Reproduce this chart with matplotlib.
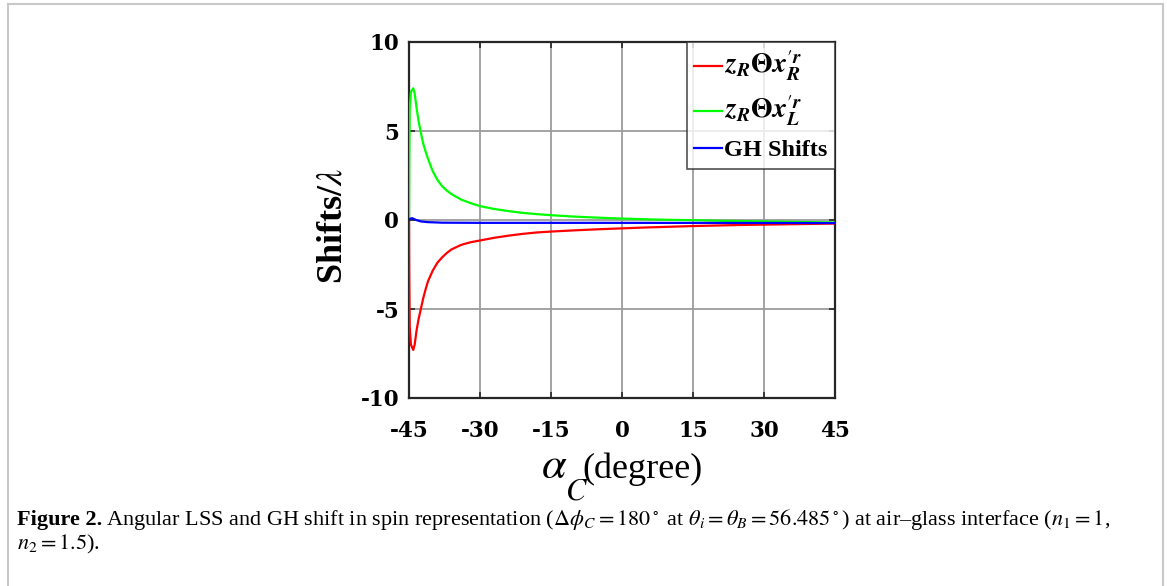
import matplotlib
matplotlib.use("Agg")
import matplotlib.pyplot as plt
from matplotlib.lines import Line2D

plt.rcParams['font.family'] = ['Liberation Serif', 'DejaVu Serif']
plt.rcParams['mathtext.fontset'] = 'stix'

# ---- data ----
alpha_c = [-45, -44.95, -44.85, -44.6, -44.1, -43.8, -43.4, -43.0, -42.5, -42.0, -41.5,
           -41.0, -40.0, -39.0, -38.0, -37.0, -36.0, -34.0, -32.0, -30.0, -27.0, -24.0,
           -21.0, -18.0, -15.0, -10.0, -5.0, 0.0, 5.0, 10.0, 15.0, 20.0, 25.0, 30.0,
           35.0, 40.0, 45.0]
shift_R = [0, -3.0, -6.0, -7.0, -7.3, -7.0, -6.2, -5.6, -5.0, -4.4, -3.9,
           -3.45, -2.85, -2.4, -2.1, -1.85, -1.65, -1.4, -1.25, -1.15, -1.0, -0.88,
           -0.78, -0.70, -0.65, -0.58, -0.52, -0.47, -0.42, -0.38, -0.34, -0.31, -0.28, -0.26,
           -0.24, -0.22, -0.20]
shift_L = [0, 3.0, 6.2, 7.2, 7.4, 7.1, 6.3, 5.6, 4.9, 4.3, 3.85,
           3.45, 2.75, 2.25, 1.9, 1.65, 1.45, 1.15, 0.95, 0.78, 0.62, 0.50,
           0.40, 0.33, 0.27, 0.19, 0.13, 0.08, 0.04, 0.01, -0.01, -0.04, -0.06, -0.08,
           -0.10, -0.12, -0.14]
gh_x = [-45, -44.7, -44.3, -43.5, -42.5, -41.0, -38.0, -30.0, 0.0, 45.0]
gh_shift = [0, 0.08, 0.10, 0.0, -0.08, -0.12, -0.15, -0.16, -0.16, -0.17]

x_ticks = [-45, -30, -15, 0, 15, 30, 45]
y_ticks = [-10, -5, 0, 5, 10]
legend_labels = [r'$\mathbfit{z}_{\mathbfit{R}}\mathbf{\Theta}\mathbfit{x}^{\prime\mathbfit{r}}_{\mathbfit{R}}$',
                 r'$\mathbfit{z}_{\mathbfit{R}}\mathbf{\Theta}\mathbfit{x}^{\prime\mathbfit{r}}_{\mathbfit{L}}$',
                 'GH Shifts']

W, H = 1167, 586
fig = plt.figure(figsize=(W / 100, H / 100), dpi=100)
ax = fig.add_axes([409 / W, 1 - 398 / H, (835 - 409) / W, (398 - 42) / H])

ax.plot(alpha_c, shift_R, color=(1, 0, 0), lw=1.6, label=legend_labels[0], zorder=3)
ax.plot(alpha_c, shift_L, color=(0, 1, 0), lw=1.6, label=legend_labels[1], zorder=3)
ax.plot(gh_x, gh_shift, color=(0, 0, 1), lw=1.6, label=legend_labels[2], zorder=3)

ax.set_xlim(-45, 45)
ax.set_ylim(-10, 10)
ax.set_xticks(x_ticks)
ax.set_yticks(y_ticks)
ax.set_xticklabels([str(v) for v in x_ticks])
ax.set_yticklabels([str(v) for v in y_ticks])
ax.grid(True, color='#9c9c9c', lw=1.3)
ax.set_axisbelow(True)
for sp in ax.spines.values():
    sp.set_color('#262626')
    sp.set_linewidth(1.6)
ax.tick_params(axis='both', direction='in', length=4, width=1.2, color='#262626',
               top=True, right=True)
ax.tick_params(axis='x', pad=16)
ax.tick_params(axis='y', pad=7)
for lab in ax.get_xticklabels() + ax.get_yticklabels():
    lab.set_fontfamily('DejaVu Serif')
    lab.set_fontweight('bold')
    lab.set_fontsize(15.5)

ax.set_ylabel(r'Shifts/$\lambda$', fontsize=26, fontweight='bold')
ax.yaxis.set_label_coords((349 - 409) / (835 - 409), (398 - 226) / (398 - 42))

# x label pieces: alpha with big subscript C, then (degree)
fig.text(541 / W, 1 - 478 / H, r'$\alpha$', fontsize=32, va='baseline', ha='left')
fig.text(565 / W, 1 - 499 / H, r'$C$', fontsize=22, va='baseline', ha='left')
fig.text(582 / W, 1 - 478 / H, '(degree)', fontsize=26, va='baseline', ha='left')

leg = ax.legend(loc='upper right', bbox_to_anchor=(1.0, 1.0), frameon=True, fancybox=False,
                handlelength=1.15, handletextpad=0.1, borderpad=0.3, labelspacing=0.45,
                borderaxespad=0, prop={'size': 17.5, 'weight': 'bold'})
leg.get_frame().set_edgecolor('#262626')
leg.get_frame().set_linewidth(1.2)
for t in leg.get_texts()[:2]:
    t.set_fontsize(20)

# figure frame (open at bottom)
fc = '#c8c8c8'
fig.add_artist(Line2D([7.5 / W, 7.5 / W], [0, 1 - 3.5 / H], color=fc, lw=1.5, transform=fig.transFigure))
fig.add_artist(Line2D([7.5 / W, 1163 / W], [1 - 3.5 / H, 1 - 3.5 / H], color=fc, lw=1.5, transform=fig.transFigure))
fig.add_artist(Line2D([1163 / W, 1163 / W], [0, 1 - 3.5 / H], color=fc, lw=1.5, transform=fig.transFigure))

# caption
cap_fs = 16
t1 = fig.text(17 / W, 1 - 525 / H, 'Figure 2.', fontsize=cap_fs, fontweight='bold', va='baseline')
fig.canvas.draw()
bb = t1.get_window_extent(renderer=fig.canvas.get_renderer())
fig.text((bb.x1 + 4) / W, 1 - 525 / H,
         r'Angular LSS and GH shift in spin representation ($\Delta\phi_C = 180^\circ$ at '
         r'$\theta_i = \theta_B = 56.485^\circ$) at air–glass interface ($n_1 = 1$,',
         fontsize=cap_fs, va='baseline', ha='left')
fig.text(17 / W, 1 - 549 / H, r'$n_2 = 1.5$).', fontsize=cap_fs, va='baseline')

fig.savefig('out.png', dpi=100)
